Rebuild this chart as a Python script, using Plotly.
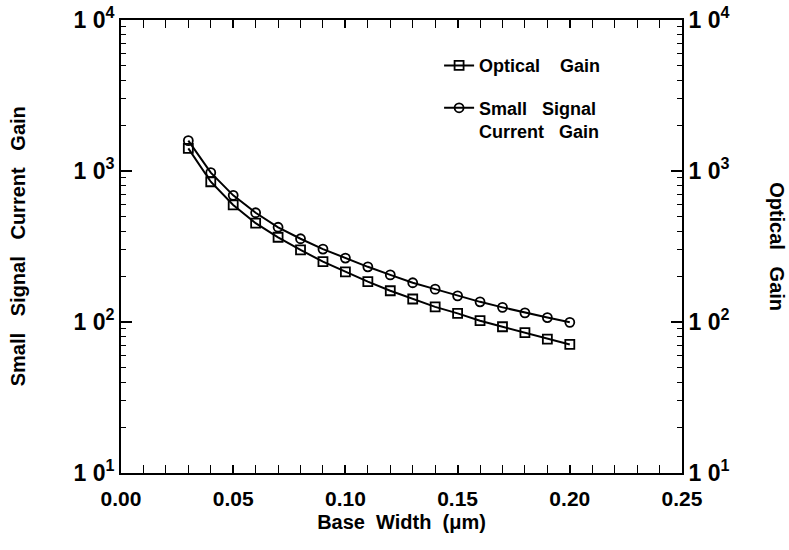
import plotly.graph_objects as go

base_width = [0.03, 0.04, 0.05, 0.06, 0.07, 0.08, 0.09, 0.10, 0.11, 0.12,
              0.13, 0.14, 0.15, 0.16, 0.17, 0.18, 0.19, 0.20]
optical_gain = [1413, 849, 596, 451, 364, 300, 251, 215, 185, 161,
                142, 126, 114, 102, 93, 85, 77, 71]
current_gain = [1588, 975, 690, 529, 424, 356, 304, 265, 232, 205,
                182, 165, 149, 136, 125, 115, 107, 99.5]

x_ticks = [0.00, 0.05, 0.10, 0.15, 0.20, 0.25]
x_ticklabels = ["0.00", "0.05", "0.10", "0.15", "0.20", "0.25"]
y_ticks = [10, 100, 1000, 10000]
y_ticklabels = ["1 0<sup>1</sup>", "1 0<sup>2</sup>", "1 0<sup>3</sup>", "1 0<sup>4</sup>"]

FONT = "Liberation Sans, Arial, sans-serif"
NB = "\u00a0"

minor_y = [m * 10 ** e for e in range(1, 4) for m in range(2, 10)]


def bold(size):
    return dict(family=FONT, size=size, color="black", weight="bold")


fig = go.Figure()
fig.add_trace(go.Scatter(
    x=base_width, y=optical_gain, mode="lines+markers",
    name="Optical" + NB * 4 + "Gain", yaxis="y2", legendgroup="a",
    line=dict(color="black", width=2),
    marker=dict(symbol="square-open", size=9, color="black", line=dict(width=1.8)),
))
fig.add_trace(go.Scatter(
    x=base_width, y=current_gain, mode="lines+markers",
    name="Small" + NB * 3 + "Signal<br>Current" + NB * 3 + "Gain", legendgroup="b",
    line=dict(color="black", width=2),
    marker=dict(symbol="circle-open", size=9, color="black", line=dict(width=1.8)),
))

tickfont = bold(21)
ytickfont = bold(23)

fig.update_layout(
    width=789, height=550,
    margin=dict(l=121, r=107, t=20, b=77),
    paper_bgcolor="white", plot_bgcolor="white",
    font=dict(family=FONT, color="black"),
    showlegend=True,
    legend=dict(
        x=0.567, y=0.94, xanchor="left", yanchor="top",
        bgcolor="rgba(0,0,0,0)", borderwidth=0,
        font=bold(18),
        valign="top", tracegroupgap=16,
    ),
    xaxis=dict(
        range=[0, 0.25], tickmode="array", tickvals=x_ticks, ticktext=x_ticklabels,
        ticks="inside", ticklen=8, tickwidth=1.5, tickcolor="black",
        showline=True, linecolor="black", linewidth=2, mirror="allticks",
        showgrid=False, zeroline=False, tickfont=tickfont, automargin=False,
        ticklabelstandoff=6,
        minor=dict(dtick=0.01, ticks="inside", ticklen=4, tickwidth=1, tickcolor="black", showgrid=False),
        title=dict(text="Base" + NB * 2 + "Width" + NB * 2 + "(μm)",
                   font=bold(20), standoff=6),
    ),
    yaxis=dict(
        type="log", range=[1, 4], tickmode="array", tickvals=y_ticks, ticktext=y_ticklabels,
        ticks="inside", ticklen=11, tickwidth=1.5, tickcolor="black",
        showline=True, linecolor="black", linewidth=2, automargin=False,
        showgrid=False, zeroline=False, tickfont=ytickfont,
        minor=dict(tickmode="array", tickvals=minor_y, ticks="inside", ticklen=5,
                   tickwidth=1, tickcolor="black", showgrid=False),
    ),
    yaxis2=dict(
        type="log", range=[1, 4], overlaying="y", side="right",
        tickmode="array", tickvals=y_ticks, ticktext=y_ticklabels,
        ticks="inside", ticklen=11, tickwidth=1.5, tickcolor="black",
        showline=True, linecolor="black", linewidth=2, automargin=False,
        showgrid=False, zeroline=False, tickfont=ytickfont,
        minor=dict(tickmode="array", tickvals=minor_y, ticks="inside", ticklen=5,
                   tickwidth=1, tickcolor="black", showgrid=False),
    ),
    annotations=[
        dict(text="Small" + NB * 3 + "Signal" + NB * 3 + "Current" + NB * 3 + "Gain",
             xref="paper", yref="paper", x=-0.184, y=0.5, textangle=-90,
             showarrow=False, font=bold(20),
             xanchor="center", yanchor="middle"),
        dict(text="Optical" + NB * 3 + "Gain",
             xref="paper", yref="paper", x=1.17, y=0.5, textangle=90,
             showarrow=False, font=bold(20),
             xanchor="center", yanchor="middle"),
    ],
)

fig.write_html("out.html")
